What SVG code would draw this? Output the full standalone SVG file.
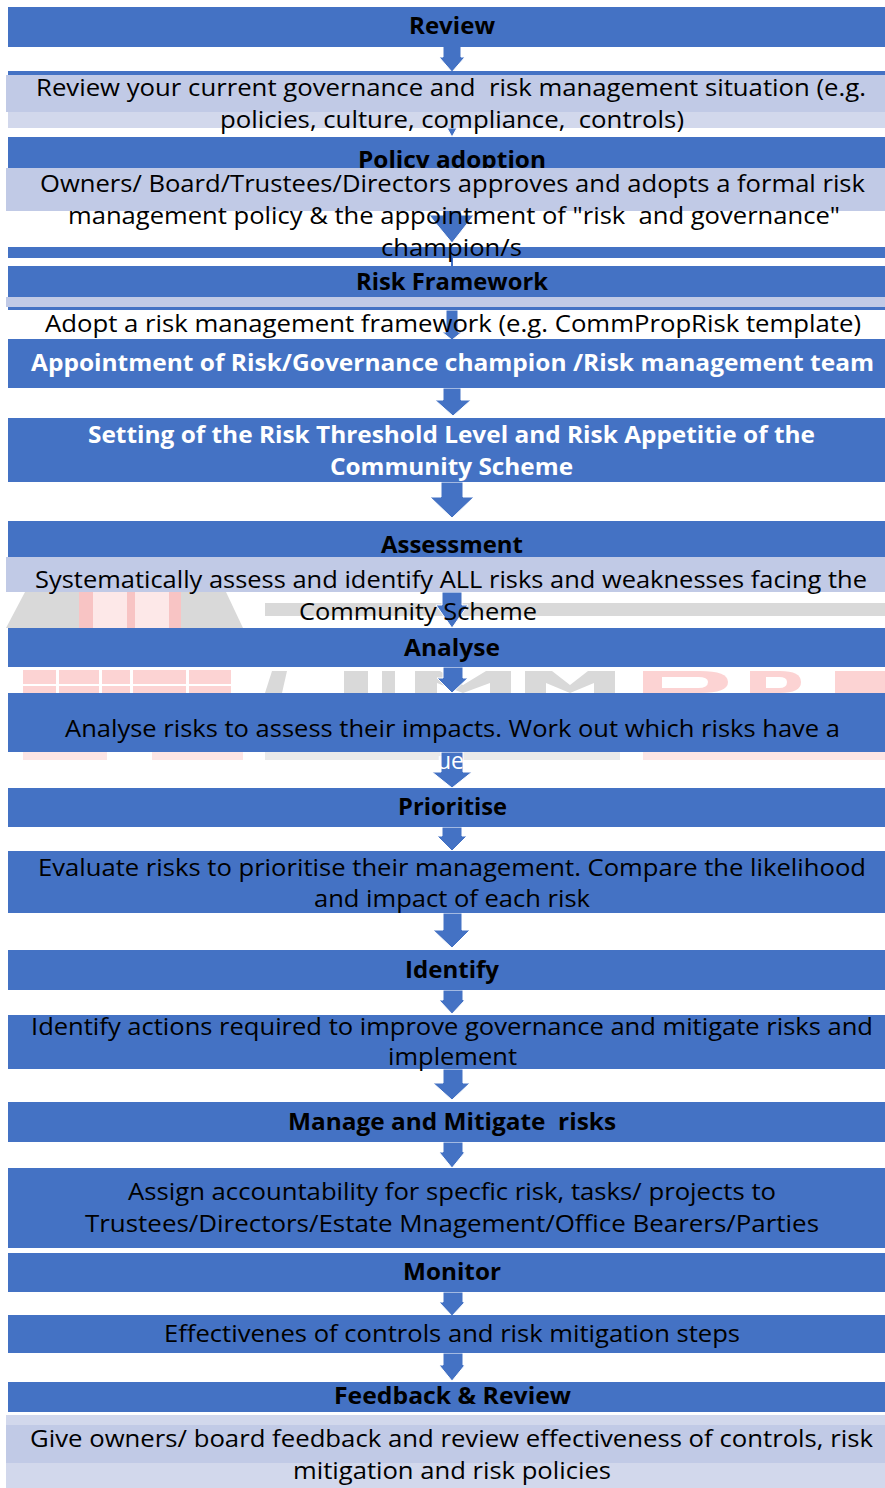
<svg xmlns="http://www.w3.org/2000/svg" width="885" height="1488" viewBox="0 0 885 1488">
  <style>
    .t { font-family: "Open Sans", "Liberation Sans", sans-serif; font-size: 23px; fill: #000; white-space: pre; }
    .h { font-weight: 700; font-size: 23px; }
    .w { fill: #fff; font-weight: 700; font-size: 24px; }
    .b { fill: #4472C4; }
    .l1 { fill: #C1CAE6; }
    .l2 { fill: #D2D8EC; }
    .arrow { fill: #4472C4; stroke: #fff; stroke-width: 1; }
    .wg { fill: #D9D9D9; }
    .wp { fill: #FCD3D3; }
  </style>
  <rect width="885" height="1488" fill="#fff"/>

  <!-- faded logo behind the Assessment / Analyse steps -->
  <g id="watermark">
    <polygon class="wg" points="25,592 226,592 243,628 6,628"/>
    <rect x="79" y="592" width="102" height="36" fill="#F8C4C4"/>
    <rect x="93" y="592" width="34" height="36" fill="#FDE8E8"/>
    <rect x="135" y="592" width="34" height="36" fill="#FDE8E8"/>
    <rect class="wg" x="265" y="603" width="620" height="13"/>

    <rect class="wp" x="23" y="670" width="208" height="23"/>
    <rect x="56" y="670" width="3" height="23" fill="#fff"/>
    <rect x="99" y="670" width="3" height="23" fill="#fff"/>
    <rect x="130" y="670" width="3" height="23" fill="#fff"/>
    <rect x="186" y="670" width="3" height="23" fill="#fff"/>
    <rect x="23" y="684" width="208" height="2" fill="#fff"/>
    <polygon class="wg" points="272,671 287,671 282,693 265,693"/>
    <rect class="wg" x="344" y="671" width="24" height="22"/>
    <rect class="wg" x="382" y="671" width="13" height="22"/>
    <polygon class="wg" points="415,671 440,671 463,685 486,671 511,671 511,693 490,693 490,683 463,693 437,683 437,693 415,693"/>
    <polygon class="wg" points="525,671 552,671 570,685 588,671 615,671 615,693 594,693 594,683 570,693 546,683 546,693 525,693"/>
    <path class="wp" d="M643,671 H700 Q728,671 728,682 Q728,693 700,693 H643 Z"/>
    <path d="M662,677 H698 Q708,677 708,682 Q708,688 698,688 H662 Z" fill="#fff"/>
    <path class="wp" d="M750,671 H780 Q801,671 801,682 Q801,693 780,693 H750 Z"/>
    <path d="M766,677 H779 Q787,677 787,682 Q787,688 779,688 H766 Z" fill="#fff"/>
    <rect class="wp" x="835" y="671" width="50" height="22"/>

    <rect x="23" y="752" width="84" height="8" fill="#FDE5E5"/>
    <rect x="152" y="752" width="91" height="8" fill="#FDE5E5"/>
    <rect x="265" y="752" width="355" height="8" fill="#EAEAEA"/>
    <rect x="643" y="752" width="242" height="8" fill="#FDE5E5"/>
  </g>

  <!-- block arrows between the steps -->
  <g id="connectors">
    <polygon class="arrow" points="443,46 461,46 461,57 465,57 452,72 439,57 443,57"/>
    <polygon class="arrow" points="447,128 457,128 452,137"/>
    <polygon class="arrow" points="443,205 461,205 461,215 474,215 452,243 429,215 443,215"/>
    <rect x="451" y="258" width="2" height="9" fill="#4472C4"/>
    <polygon class="arrow" points="446,310 458,310 458,332 462,332 452,340 442,332 446,332"/>
    <polygon class="arrow" points="443,388 461,388 461,400 471,400 453,416 435,400 443,400"/>
    <polygon class="arrow" points="441,482 463,482 463,497 474,497 452,518 430,497 441,497"/>
    <polygon class="arrow" points="442,592 462,592 462,605 468,605 452,628 436,605 442,605"/>
    <polygon class="arrow" points="443,667 463,667 463,678 468,678 452,693 437,678 443,678"/>
    <polygon class="arrow" points="441,752 463,752 463,772 472,772 452,788 432,772 441,772"/>
    <polygon class="arrow" points="442,827 462,827 462,836 467,836 452,851 437,836 442,836"/>
    <polygon class="arrow" points="443,913 462,913 462,930 470,930 452,948 433,930 443,930"/>
    <polygon class="arrow" points="443,990 463,990 463,1000 465,1000 452,1014 439,1000 443,1000"/>
    <polygon class="arrow" points="443,1069 463,1069 463,1083 470,1083 452,1100 433,1083 443,1083"/>
    <polygon class="arrow" points="443,1142 463,1142 463,1152 465,1152 452,1168 439,1152 443,1152"/>
    <polygon class="arrow" points="443,1292 463,1292 463,1302 465,1302 452,1316 439,1302 443,1302"/>
    <polygon class="arrow" points="443,1353 463,1353 463,1365 465,1365 452,1381 439,1365 443,1365"/>
  </g>

  <g id="review-head">
    <rect class="b" x="8" y="7" width="877" height="40"/>
    <text class="t h" x="409" y="34" textLength="86" lengthAdjust="spacingAndGlyphs">Review</text>
  </g>
  <g id="review-body">
    <rect class="b" x="8" y="71" width="877" height="5"/>
    <rect class="l1" x="6" y="75" width="879" height="37"/>
    <rect class="l2" x="8" y="112" width="877" height="16"/>
    <text class="t" x="36" y="96" textLength="830" lengthAdjust="spacingAndGlyphs">Review your current governance and  risk management situation (e.g.</text>
    <text class="t" x="220" y="128" textLength="464" lengthAdjust="spacingAndGlyphs">policies, culture, compliance,  controls)</text>
  </g>

  <g id="policy-head">
    <rect class="b" x="8" y="137" width="877" height="74"/>
    <rect class="b" x="8" y="247" width="877" height="11"/>
    <text class="t h" x="358" y="168" textLength="188" lengthAdjust="spacingAndGlyphs">Policy adoption</text>
  </g>
  <g id="policy-body">
    <rect class="l1" x="6" y="168" width="879" height="43"/>
    <text class="t" x="40" y="192" textLength="825" lengthAdjust="spacingAndGlyphs">Owners/ Board/Trustees/Directors approves and adopts a formal risk</text>
    <text class="t" x="68" y="224" textLength="772" lengthAdjust="spacingAndGlyphs">management policy &amp; the appointment of "risk  and governance"</text>
    <text class="t" x="381" y="256" textLength="141" lengthAdjust="spacingAndGlyphs">champion/s</text>
  </g>

  <g id="framework-head">
    <rect class="b" x="8" y="266" width="877" height="44"/>
    <text class="t h" x="356" y="290" textLength="192" lengthAdjust="spacingAndGlyphs">Risk Framework</text>
  </g>
  <g id="framework-body">
    <rect class="l1" x="6" y="297" width="879" height="10"/>
    <text class="t" x="45" y="332" textLength="816" lengthAdjust="spacingAndGlyphs">Adopt a risk management framework (e.g. CommPropRisk template)</text>
  </g>

  <g id="appointment">
    <rect class="b" x="8" y="339" width="877" height="49"/>
    <text class="t w" x="31" y="371" textLength="843" lengthAdjust="spacingAndGlyphs">Appointment of Risk/Governance champion /Risk management team</text>
  </g>

  <g id="threshold">
    <rect class="b" x="8" y="418" width="877" height="64"/>
    <text class="t w" x="88" y="443" textLength="727" lengthAdjust="spacingAndGlyphs">Setting of the Risk Threshold Level and Risk Appetitie of the</text>
    <text class="t w" x="330" y="475" textLength="243" lengthAdjust="spacingAndGlyphs">Community Scheme</text>
  </g>

  <g id="assessment-head">
    <rect class="b" x="8" y="521" width="877" height="71"/>
    <text class="t h" x="381" y="553" textLength="142" lengthAdjust="spacingAndGlyphs">Assessment</text>
  </g>
  <g id="assessment-body">
    <rect class="l1" x="6" y="557" width="879" height="35"/>
    <text class="t" x="35" y="588" textLength="832" lengthAdjust="spacingAndGlyphs">Systematically assess and identify ALL risks and weaknesses facing the</text>
    <text class="t" x="299" y="620" textLength="238" lengthAdjust="spacingAndGlyphs">Community Scheme</text>
  </g>

  <g id="analyse-head">
    <rect class="b" x="8" y="628" width="877" height="39"/>
    <text class="t h" x="404" y="656" textLength="96" lengthAdjust="spacingAndGlyphs">Analyse</text>
  </g>
  <g id="analyse-body">
    <rect class="b" x="8" y="693" width="877" height="59"/>
    <text class="t" x="65" y="737" textLength="775" lengthAdjust="spacingAndGlyphs">Analyse risks to assess their impacts. Work out which risks have a</text>
    <text class="t" x="437" y="769" style="fill:#fff">ue</text>
  </g>

  <g id="prioritise-head">
    <rect class="b" x="8" y="788" width="877" height="39"/>
    <text class="t h" x="398" y="815" textLength="109" lengthAdjust="spacingAndGlyphs">Prioritise</text>
  </g>
  <g id="prioritise-body">
    <rect class="b" x="8" y="851" width="877" height="62"/>
    <text class="t" x="38" y="876" textLength="828" lengthAdjust="spacingAndGlyphs">Evaluate risks to prioritise their management. Compare the likelihood</text>
    <text class="t" x="314" y="907" textLength="276" lengthAdjust="spacingAndGlyphs">and impact of each risk</text>
  </g>

  <g id="identify-head">
    <rect class="b" x="8" y="950" width="877" height="40"/>
    <text class="t h" x="405" y="978" textLength="94" lengthAdjust="spacingAndGlyphs">Identify</text>
  </g>
  <g id="identify-body">
    <rect class="b" x="8" y="1015" width="877" height="54"/>
    <text class="t" x="31" y="1035" textLength="842" lengthAdjust="spacingAndGlyphs">Identify actions required to improve governance and mitigate risks and</text>
    <text class="t" x="388" y="1065" textLength="129" lengthAdjust="spacingAndGlyphs">implement</text>
  </g>

  <g id="manage-head">
    <rect class="b" x="8" y="1102" width="877" height="40"/>
    <text class="t h" x="288" y="1130" textLength="328" lengthAdjust="spacingAndGlyphs">Manage and Mitigate  risks</text>
  </g>
  <g id="manage-body">
    <rect class="b" x="8" y="1168" width="877" height="80"/>
    <text class="t" x="128" y="1200" textLength="648" lengthAdjust="spacingAndGlyphs">Assign accountability for specfic risk, tasks/ projects to</text>
    <text class="t" x="85" y="1232" textLength="734" lengthAdjust="spacingAndGlyphs">Trustees/Directors/Estate Mnagement/Office Bearers/Parties</text>
  </g>

  <g id="monitor-head">
    <rect class="b" x="8" y="1253" width="877" height="39"/>
    <text class="t h" x="403" y="1280" textLength="98" lengthAdjust="spacingAndGlyphs">Monitor</text>
  </g>
  <g id="monitor-body">
    <rect class="b" x="8" y="1315" width="877" height="38"/>
    <text class="t" x="164" y="1342" textLength="576" lengthAdjust="spacingAndGlyphs">Effectivenes of controls and risk mitigation steps</text>
  </g>

  <g id="feedback-head">
    <rect class="b" x="8" y="1382" width="877" height="30"/>
    <text class="t h" x="334" y="1404" textLength="237" lengthAdjust="spacingAndGlyphs">Feedback &amp; Review</text>
  </g>
  <g id="feedback-body">
    <rect class="l2" x="6" y="1415" width="879" height="73"/>
    <rect class="l1" x="6" y="1425" width="879" height="38"/>
    <text class="t" x="30" y="1447" textLength="843" lengthAdjust="spacingAndGlyphs">Give owners/ board feedback and review effectiveness of controls, risk</text>
    <text class="t" x="293" y="1479" textLength="318" lengthAdjust="spacingAndGlyphs">mitigation and risk policies</text>
  </g>
</svg>
